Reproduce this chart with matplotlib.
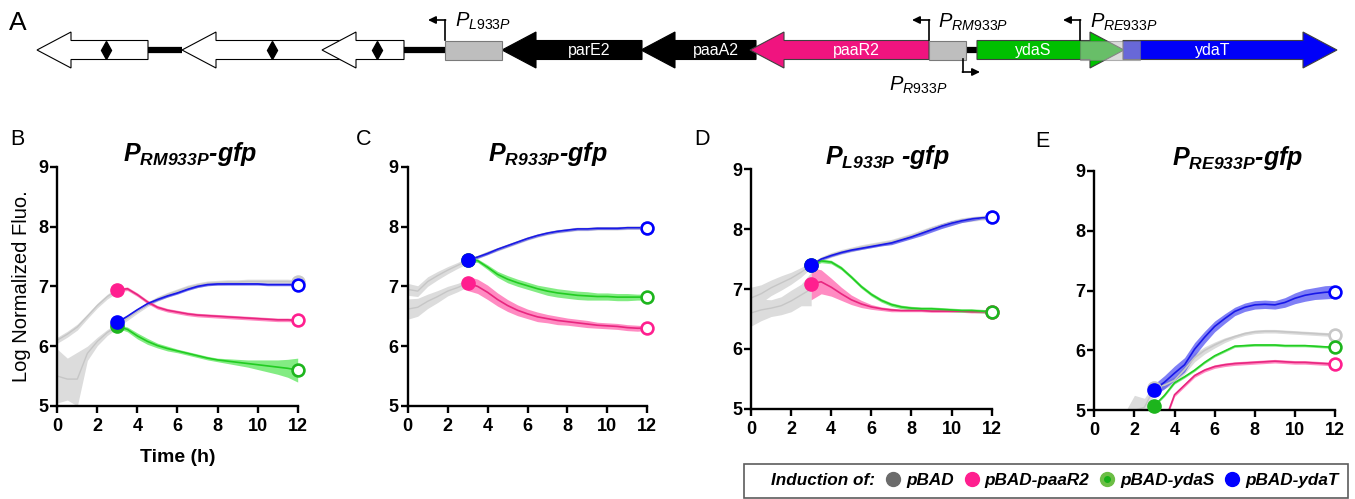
import matplotlib
matplotlib.use("Agg")
import matplotlib.pyplot as plt
from matplotlib.patches import Polygon, Rectangle
from matplotlib.lines import Line2D
from matplotlib.font_manager import FontProperties

plt.rcParams['font.family'] = 'Liberation Sans'
plt.rcParams['mathtext.fontset'] = 'custom'
plt.rcParams['mathtext.rm'] = 'Liberation Sans'
plt.rcParams['mathtext.it'] = 'Liberation Sans:italic'
plt.rcParams['mathtext.bf'] = 'Liberation Sans:bold:italic'

# ---------------- gene map (panel A), pixel units ----------------
gene_names = ['', '', '', 'parE2', 'paaA2', 'paaR2', 'ydaS', 'ydaT']
gene_tail = [148, 357, 404, 642, 756, 929, 977, 1123]
gene_tip = [37, 182, 322, 502, 641, 750, 1124, 1337]
gene_color = ['white', 'white', 'white', 'black', 'black', '#F0147F', '#00C000', '#0000F8']
diamond_x = [106, 272, 377]
spacer_x = [(148, 182), (404, 445), (966, 977)]
prom_box = [(445, 502, 1.0), (929, 966, 1.0), (1080, 1140, 0.55)]
prom_names = ['L933P', 'RM933P', 'R933P', 'RE933P']
prom_x = [445, 929, 963, 1080]
prom_dir = [-1, -1, 1, -1]
prom_y = [(40, 20), (40, 20), (59, 72), (40, 20)]
prom_label_xy = [(455, 27), (938, 28), (889, 91), (1090, 28)]

# ---------------- time courses ----------------
t_pre = [0, 0.5, 1, 1.5, 2, 2.5, 3]
t_post = [3, 3.5, 4, 4.5, 5, 5.5, 6, 6.5, 7, 7.5, 8, 8.5, 9, 9.5, 10, 10.5, 11, 11.5, 12]

# B: P_RM933P-gfp
b_pre1 = [6.10, 6.20, 6.32, 6.50, 6.68, 6.83, 6.94]
b_pre1_sd = [0.05, 0.05, 0.05, 0.04, 0.04, 0.04, 0.04]
b_pre2 = [5.50, 5.45, 5.45, 5.88, 6.08, 6.23, 6.34]
b_pre2_sd = [0.45, 0.35, 0.45, 0.12, 0.07, 0.05, 0.04]
b_pbad = [6.36, 6.47, 6.59, 6.70, 6.79, 6.86, 6.92, 6.98, 7.02, 7.05, 7.06, 7.07, 7.07, 7.08, 7.08, 7.08, 7.08, 7.08, 7.07]
b_pbad_sd = [0.04] * 19
b_paar2 = [6.94, 6.96, 6.86, 6.74, 6.65, 6.60, 6.57, 6.54, 6.52, 6.51, 6.50, 6.49, 6.48, 6.47, 6.46, 6.45, 6.44, 6.44, 6.43]
b_paar2_sd = [0.03] * 19
b_ydas = [6.33, 6.28, 6.17, 6.08, 6.01, 5.96, 5.92, 5.88, 5.84, 5.80, 5.77, 5.75, 5.73, 5.71, 5.69, 5.67, 5.65, 5.63, 5.60]
b_ydas_sd = [0.03, 0.04, 0.05, 0.05, 0.04, 0.04, 0.03, 0.03, 0.03, 0.03, 0.03, 0.04, 0.05, 0.06, 0.08, 0.10, 0.12, 0.15, 0.20]
b_ydat = [6.40, 6.50, 6.61, 6.71, 6.78, 6.84, 6.89, 6.95, 7.00, 7.03, 7.04, 7.04, 7.04, 7.04, 7.04, 7.03, 7.03, 7.03, 7.03]
b_ydat_sd = [0.02] * 19

# C: P_R933P-gfp
c_pre1 = [6.95, 6.92, 7.08, 7.18, 7.27, 7.35, 7.43]
c_pre1_sd = [0.10, 0.09, 0.08, 0.07, 0.06, 0.05, 0.05]
c_pre2 = [6.62, 6.65, 6.75, 6.83, 6.92, 6.98, 7.05]
c_pre2_sd = [0.17, 0.15, 0.12, 0.10, 0.08, 0.07, 0.06]
c_pbad = [7.44, 7.49, 7.56, 7.62, 7.68, 7.74, 7.80, 7.85, 7.89, 7.92, 7.94, 7.96, 7.96, 7.97, 7.97, 7.97, 7.98, 7.98, 7.98]
c_pbad_sd = [0.03] * 19
c_paar2 = [7.05, 7.00, 6.90, 6.78, 6.68, 6.60, 6.54, 6.49, 6.46, 6.43, 6.41, 6.39, 6.37, 6.35, 6.34, 6.33, 6.31, 6.30, 6.30]
c_paar2_sd = [0.12, 0.12, 0.12, 0.11, 0.10, 0.09, 0.08, 0.08, 0.07, 0.07, 0.06, 0.06, 0.06, 0.05, 0.05, 0.05, 0.05, 0.05, 0.04]
c_ydas = [7.44, 7.43, 7.32, 7.20, 7.12, 7.06, 7.01, 6.96, 6.92, 6.89, 6.87, 6.85, 6.84, 6.83, 6.83, 6.82, 6.82, 6.82, 6.82]
c_ydas_sd = [0.03, 0.03, 0.04, 0.05, 0.06, 0.06, 0.06, 0.06, 0.07, 0.07, 0.07, 0.07, 0.07, 0.06, 0.06, 0.06, 0.06, 0.05, 0.05]
c_ydat = [7.44, 7.49, 7.55, 7.62, 7.68, 7.74, 7.80, 7.85, 7.89, 7.92, 7.94, 7.96, 7.96, 7.97, 7.97, 7.97, 7.98, 7.98, 7.98]
c_ydat_sd = [0.02] * 19

# D: P_L933P-gfp
d_pre1 = [6.85, 6.92, 7.02, 7.10, 7.18, 7.28, 7.40]
d_pre1_sd = [0.18, 0.15, 0.13, 0.12, 0.10, 0.08, 0.05]
d_pre2 = [6.60, 6.65, 6.68, 6.72, 6.80, 6.90, 7.00]
d_pre2_sd = [0.22, 0.18, 0.14, 0.15, 0.18, 0.18, 0.28]
d_pbad = [7.40, 7.50, 7.57, 7.62, 7.66, 7.70, 7.73, 7.76, 7.79, 7.84, 7.89, 7.95, 8.01, 8.06, 8.11, 8.15, 8.17, 8.19, 8.20]
d_pbad_sd = [0.04] * 19
d_paar2 = [7.09, 7.12, 7.03, 6.92, 6.82, 6.75, 6.70, 6.67, 6.65, 6.64, 6.64, 6.64, 6.63, 6.63, 6.63, 6.63, 6.62, 6.62, 6.62]
d_paar2_sd = [0.27, 0.20, 0.15, 0.11, 0.08, 0.06, 0.04, 0.03, 0.03, 0.02, 0.02, 0.02, 0.02, 0.02, 0.02, 0.02, 0.02, 0.02, 0.02]
d_ydas = [7.40, 7.47, 7.45, 7.35, 7.20, 7.04, 6.91, 6.81, 6.74, 6.70, 6.68, 6.67, 6.67, 6.66, 6.65, 6.64, 6.64, 6.63, 6.62]
d_ydas_sd = [0.03] * 19
d_ydat = [7.40, 7.50, 7.56, 7.61, 7.65, 7.68, 7.71, 7.74, 7.77, 7.82, 7.87, 7.93, 7.99, 8.05, 8.10, 8.14, 8.17, 8.19, 8.20]
d_ydat_sd = [0.02, 0.02, 0.02, 0.02, 0.02, 0.02, 0.02, 0.02, 0.03, 0.03, 0.03, 0.04, 0.04, 0.04, 0.04, 0.03, 0.03, 0.02, 0.02]

# E: P_RE933P-gfp
e_pre1 = [4.20, 4.40, 4.60, 4.80, 5.00, 5.05, 5.38]
e_pre1_sd = [0.10, 0.10, 0.10, 0.15, 0.25, 0.15, 0.08]
e_pbad = [5.38, 5.42, 5.50, 5.68, 5.88, 6.00, 6.09, 6.17, 6.23, 6.28, 6.31, 6.32, 6.32, 6.31, 6.30, 6.29, 6.28, 6.27, 6.26]
e_pbad_sd = [0.06, 0.06, 0.06, 0.07, 0.07, 0.06, 0.05, 0.04, 0.03, 0.03, 0.03, 0.03, 0.03, 0.03, 0.03, 0.03, 0.03, 0.03, 0.03]
e_paar2 = [4.50, 4.80, 5.26, 5.42, 5.58, 5.67, 5.73, 5.76, 5.78, 5.79, 5.80, 5.81, 5.82, 5.81, 5.80, 5.80, 5.79, 5.78, 5.77]
e_paar2_sd = [0.03] * 19
e_ydas = [5.08, 5.25, 5.46, 5.56, 5.67, 5.80, 5.91, 5.99, 6.07, 6.08, 6.09, 6.09, 6.09, 6.08, 6.08, 6.08, 6.07, 6.06, 6.05]
e_ydas_sd = [0.02] * 19
e_ydat = [5.34, 5.47, 5.62, 5.76, 6.02, 6.22, 6.40, 6.53, 6.65, 6.72, 6.76, 6.77, 6.76, 6.80, 6.87, 6.92, 6.95, 6.97, 6.98]
e_ydat_sd = [0.10, 0.11, 0.12, 0.12, 0.11, 0.10, 0.09, 0.08, 0.07, 0.07, 0.07, 0.07, 0.07, 0.08, 0.09, 0.10, 0.10, 0.11, 0.11]

panel_letters = ['B', 'C', 'D', 'E']
panel_titles = [r'$\mathbf{P}_{\mathbf{RM933P}}$-gfp', r'$\mathbf{P}_{\mathbf{R933P}}$-gfp',
                r'$\mathbf{P}_{\mathbf{L933P}}$ -gfp', r'$\mathbf{P}_{\mathbf{RE933P}}$-gfp']
legend_labels = ['pBAD', 'pBAD-paaR2', 'pBAD-ydaS', 'pBAD-ydaT']

# styles: (band, line, marker)
styles = {
    'gray': ('#DCDCDC', '#C6C6C6', '#C8C8C8'),
    'pink': ('#FF5AA8', '#E8267F', '#FF1F8F'),
    'green': ('#4FE44F', '#22CC22', '#1DB51D'),
    'blue': ('#3030F0', '#1818E8', '#0000FF'),
}
band_alpha = {'gray': 1.0, 'pink': 0.7, 'green': 0.7, 'blue': 0.62}

W, H = 1355, 499
fig = plt.figure(figsize=(W / 100, H / 100), dpi=100)


def fx(px):
    return px / W


def fy(py):
    return 1 - py / H


# ---------------- panel A ----------------
amap = fig.add_axes([0, fy(105), 1, 105 / H])
amap.set_xlim(0, W)
amap.set_ylim(105, 0)
amap.axis('off')
yc, body, head = 50, 9.5, 18

for x0, x1 in spacer_x:
    amap.plot([x0, x1], [yc, yc], color='black', lw=4.5, solid_capstyle='butt', zorder=1)

for name, tail, tip, col in zip(gene_names, gene_tail, gene_tip, gene_color):
    d = 1 if tip > tail else -1
    hl = 34
    base = tip - d * hl
    pts = [(tail, yc - body), (base, yc - body), (base, yc - head), (tip, yc),
           (base, yc + head), (base, yc + body), (tail, yc + body)]
    ec = 'black' if col in ('white', 'black') else '#404040'
    amap.add_patch(Polygon(pts, closed=True, facecolor=col, edgecolor=ec, lw=0.8, zorder=2))
    if name:
        amap.text((tail + base) / 2, yc + 1, name, color='white', fontsize=11.5,
                  ha='center', va='center', zorder=5)

amap.plot(diamond_x, [yc] * len(diamond_x), ls='', marker='d', color='black', ms=9, zorder=3)

for x0, x1, a in prom_box:
    amap.add_patch(Rectangle((x0, yc - body), x1 - x0, 2 * body, facecolor='#BEBEBE',
                             edgecolor='#7A7A7A', lw=0.8, alpha=a, zorder=4))

for name, x, d, (y0, y1), (lx, ly) in zip(prom_names, prom_x, prom_dir, prom_y, prom_label_xy):
    amap.plot([x, x], [y0, y1], color='black', lw=1.2, zorder=6)
    amap.annotate('', xy=(x + d * 17, y1), xytext=(x - 0.6 * d, y1),
                  arrowprops=dict(arrowstyle='-|>,head_length=0.45,head_width=0.22',
                                  color='black', lw=1.2, shrinkA=0, shrinkB=0), zorder=6)
    amap.text(lx, ly, r'$\mathit{P}_{\mathit{' + name + '}}$', fontsize=14.5, ha='left',
              va='baseline', zorder=6)

fig.text(fx(9), fy(11), 'A', fontsize=19, ha='left', va='top')

# ---------------- panels B-E ----------------
axes_px = [(57.3, 166.7, 297.7, 406.0), (407.7, 166.7, 647.3, 406.0),
           (751.0, 169.3, 991.7, 408.7), (1094.3, 170.7, 1335.0, 410.3)]
title_x = [0.552, 0.585, 0.565, 0.597]
letter_px = [(10, 129), (356, 129), (694, 129), (1035, 131)]

pre_sets = [
    [(b_pre1, b_pre1_sd), (b_pre2, b_pre2_sd)],
    [(c_pre1, c_pre1_sd), (c_pre2, c_pre2_sd)],
    [(d_pre1, d_pre1_sd), (d_pre2, d_pre2_sd)],
    [(e_pre1, e_pre1_sd)],
]
post_sets = [
    [('gray', b_pbad, b_pbad_sd), ('pink', b_paar2, b_paar2_sd), ('green', b_ydas, b_ydas_sd), ('blue', b_ydat, b_ydat_sd)],
    [('gray', c_pbad, c_pbad_sd), ('pink', c_paar2, c_paar2_sd), ('green', c_ydas, c_ydas_sd), ('blue', c_ydat, c_ydat_sd)],
    [('gray', d_pbad, d_pbad_sd), ('pink', d_paar2, d_paar2_sd), ('green', d_ydas, d_ydas_sd), ('blue', d_ydat, d_ydat_sd)],
    [('gray', e_pbad, e_pbad_sd), ('pink', e_paar2, e_paar2_sd), ('green', e_ydas, e_ydas_sd), ('blue', e_ydat, e_ydat_sd)],
]

for i, (x0, y0, x1, y1) in enumerate(axes_px):
    ax = fig.add_axes([fx(x0), fy(y1), (x1 - x0) / W, (y1 - y0) / H])
    band, line, _ = styles['gray']
    for m, sd in pre_sets[i]:
        lo = [a - b for a, b in zip(m, sd)]
        hi = [a + b for a, b in zip(m, sd)]
        ax.fill_between(t_pre, lo, hi, color=band, lw=0, zorder=1)
        ax.plot(t_pre, m, color=line, lw=1.0, zorder=1.5)
    for key, m, sd in post_sets[i]:
        band, line, mk = styles[key]
        lo = [a - b for a, b in zip(m, sd)]
        hi = [a + b for a, b in zip(m, sd)]
        ax.fill_between(t_post, lo, hi, color=band, alpha=band_alpha[key], lw=0, zorder=2)
        ax.plot(t_post, m, color=line, lw=1.2, zorder=2.2)
    for key, m, sd in post_sets[i]:
        _, _, mk = styles[key]
        if m[0] >= 5:
            ax.plot(t_post[0], m[0], ls='', marker='o', ms=9.5, color=mk, mec=mk,
                    clip_on=False, zorder=4)
        ax.plot(t_post[-1], m[-1], ls='', marker='o', ms=8.5, mfc='white', mec=mk,
                mew=1.9, clip_on=False, zorder=4)

    ax.set_xlim(0, 12)
    ax.set_ylim(5, 9)
    ax.set_xticks([0, 2, 4, 6, 8, 10, 12])
    ax.set_yticks([5, 6, 7, 8, 9])
    for s in ('top', 'right'):
        ax.spines[s].set_visible(False)
    for s in ('left', 'bottom'):
        ax.spines[s].set_linewidth(1.7)
    ax.tick_params(axis='both', width=1.7, length=5, labelsize=13)
    ax.tick_params(axis='x', pad=3.5)
    ax.tick_params(axis='y', pad=1.5)
    for lbl in ax.get_xticklabels() + ax.get_yticklabels():
        lbl.set_fontweight('bold')
    ax.text(title_x[i], 1.024, panel_titles[i], transform=ax.transAxes, ha='center',
            va='baseline', fontsize=18, fontweight='bold', fontstyle='italic')
    lx, ly = letter_px[i]
    fig.text(fx(lx), fy(ly), panel_letters[i], fontsize=15.5, ha='left', va='top')
    if i == 0:
        ax.set_ylabel('Log Normalized Fluo.', fontsize=14.5, labelpad=5)
        ax.set_xlabel('Time (h)', fontsize=14, fontweight='bold', labelpad=10)

# ---------------- legend ----------------
handles = [
    Line2D([], [], ls='', marker=''),
    Line2D([], [], ls='', marker='o', ms=10, color='#6B6B6B'),
    Line2D([], [], ls='', marker='o', ms=10, color='#FF1F8F'),
    (Line2D([], [], ls='', marker='o', ms=10, color='#6CBE45'),
     Line2D([], [], ls='', marker='o', ms=4, color='#17B017')),
    Line2D([], [], ls='', marker='o', ms=10, color='#0000FF'),
]
labels = ['Induction of:'] + legend_labels
leg = fig.legend(handles, labels, loc='upper left', bbox_to_anchor=(fx(744), fy(464)),
                 ncol=5, frameon=True, fancybox=False, edgecolor='#333333',
                 prop=FontProperties(family='Liberation Sans', weight='bold', style='italic', size=12.3),
                 handlelength=0.6, handletextpad=0.45, columnspacing=0.75,
                 borderpad=0.55, borderaxespad=0)
leg.get_frame().set_linewidth(1.2)

fig.savefig('out.png', dpi=100)
